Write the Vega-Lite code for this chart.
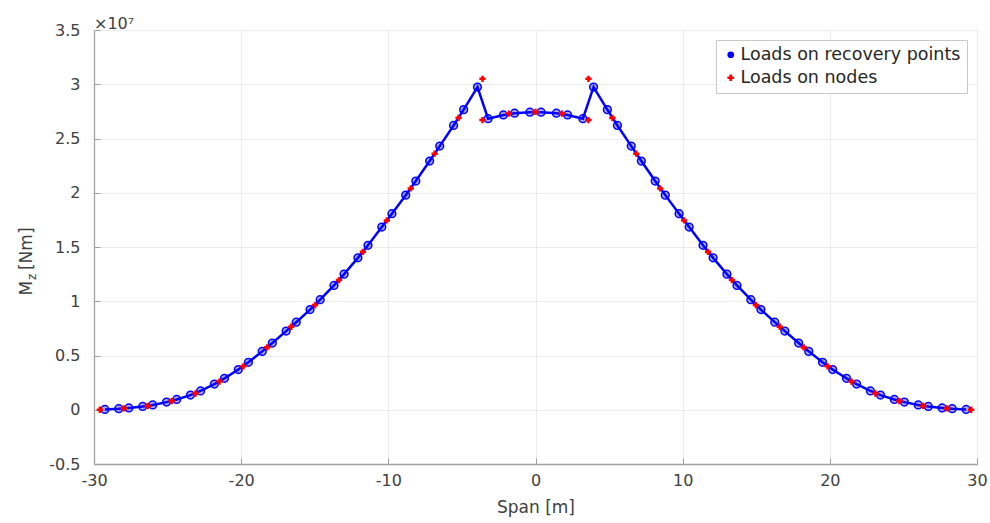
{
  "$schema": "https://vega.github.io/schema/vega-lite/v6.json",
  "width": 883,
  "height": 434,
  "autosize": {"type": "none"},
  "padding": {"left": 94, "top": 30, "right": 13, "bottom": 59},
  "background": "white",
  "config": {
    "font": "DejaVu Sans",
    "view": {"stroke": "#d4d4d4", "strokeWidth": 1},
    "axis": {
      "labelFontSize": 16,
      "labelColor": "#404040",
      "titleFontSize": 17,
      "titleFontWeight": "normal",
      "titleColor": "#404040",
      "domainColor": "#a0a0a0",
      "domainWidth": 1.3,
      "tickColor": "#a0a0a0",
      "tickSize": -6,
      "gridColor": "#ebebeb",
      "gridWidth": 1
    },
    "legend": {
      "orient": "top-right",
      "offset": 10,
      "fillColor": "white",
      "strokeColor": "#c8c8c8",
      "padding": 6,
      "labelFontSize": 17.5,
      "labelColor": "#262626",
      "labelLimit": 400,
      "labelOffset": 1,
      "rowPadding": 4,
      "symbolSize": 45,
      "symbolStrokeWidth": 0
    }
  },
  "title": {
    "text": "×10⁷",
    "anchor": "start",
    "frame": "group",
    "fontSize": 16,
    "fontWeight": "normal",
    "color": "#404040",
    "offset": -10
  },
  "datasets": {
    "pts": [
      {"x": -29.257, "Mz": 25000, "series": "Loads on recovery points"},
      {"x": -28.318, "Mz": 95000, "series": "Loads on recovery points"},
      {"x": -27.632, "Mz": 170000, "series": "Loads on recovery points"},
      {"x": -26.693, "Mz": 300000, "series": "Loads on recovery points"},
      {"x": -26.007, "Mz": 445000, "series": "Loads on recovery points"},
      {"x": -25.068, "Mz": 705000, "series": "Loads on recovery points"},
      {"x": -24.382, "Mz": 948000, "series": "Loads on recovery points"},
      {"x": -23.443, "Mz": 1352000, "series": "Loads on recovery points"},
      {"x": -22.757, "Mz": 1732000, "series": "Loads on recovery points"},
      {"x": -21.818, "Mz": 2368000, "series": "Loads on recovery points"},
      {"x": -21.132, "Mz": 2896000, "series": "Loads on recovery points"},
      {"x": -20.193, "Mz": 3704000, "series": "Loads on recovery points"},
      {"x": -19.507, "Mz": 4370000, "series": "Loads on recovery points"},
      {"x": -18.568, "Mz": 5380000, "series": "Loads on recovery points"},
      {"x": -17.882, "Mz": 6150000, "series": "Loads on recovery points"},
      {"x": -16.943, "Mz": 7250000, "series": "Loads on recovery points"},
      {"x": -16.257, "Mz": 8070000, "series": "Loads on recovery points"},
      {"x": -15.318, "Mz": 9230000, "series": "Loads on recovery points"},
      {"x": -14.632, "Mz": 10140000, "series": "Loads on recovery points"},
      {"x": -13.693, "Mz": 11460000, "series": "Loads on recovery points"},
      {"x": -13.007, "Mz": 12500000, "series": "Loads on recovery points"},
      {"x": -12.068, "Mz": 14000000, "series": "Loads on recovery points"},
      {"x": -11.382, "Mz": 15160000, "series": "Loads on recovery points"},
      {"x": -10.443, "Mz": 16840000, "series": "Loads on recovery points"},
      {"x": -9.757, "Mz": 18070000, "series": "Loads on recovery points"},
      {"x": -8.818, "Mz": 19780000, "series": "Loads on recovery points"},
      {"x": -8.132, "Mz": 21080000, "series": "Loads on recovery points"},
      {"x": -7.193, "Mz": 22920000, "series": "Loads on recovery points"},
      {"x": -6.507, "Mz": 24300000, "series": "Loads on recovery points"},
      {"x": -5.568, "Mz": 26200000, "series": "Loads on recovery points"},
      {"x": -4.882, "Mz": 27660000, "series": "Loads on recovery points"},
      {"x": -3.943, "Mz": 29740000, "series": "Loads on recovery points"},
      {"x": -3.22, "Mz": 26830000, "series": "Loads on recovery points"},
      {"x": -2.18, "Mz": 27170000, "series": "Loads on recovery points"},
      {"x": -1.42, "Mz": 27330000, "series": "Loads on recovery points"},
      {"x": -0.38, "Mz": 27420000, "series": "Loads on recovery points"},
      {"x": 0.38, "Mz": 27420000, "series": "Loads on recovery points"},
      {"x": 1.42, "Mz": 27330000, "series": "Loads on recovery points"},
      {"x": 2.18, "Mz": 27170000, "series": "Loads on recovery points"},
      {"x": 3.22, "Mz": 26830000, "series": "Loads on recovery points"},
      {"x": 3.943, "Mz": 29740000, "series": "Loads on recovery points"},
      {"x": 4.882, "Mz": 27660000, "series": "Loads on recovery points"},
      {"x": 5.568, "Mz": 26200000, "series": "Loads on recovery points"},
      {"x": 6.507, "Mz": 24300000, "series": "Loads on recovery points"},
      {"x": 7.193, "Mz": 22920000, "series": "Loads on recovery points"},
      {"x": 8.132, "Mz": 21080000, "series": "Loads on recovery points"},
      {"x": 8.818, "Mz": 19780000, "series": "Loads on recovery points"},
      {"x": 9.757, "Mz": 18070000, "series": "Loads on recovery points"},
      {"x": 10.443, "Mz": 16840000, "series": "Loads on recovery points"},
      {"x": 11.382, "Mz": 15160000, "series": "Loads on recovery points"},
      {"x": 12.068, "Mz": 14000000, "series": "Loads on recovery points"},
      {"x": 13.007, "Mz": 12500000, "series": "Loads on recovery points"},
      {"x": 13.693, "Mz": 11460000, "series": "Loads on recovery points"},
      {"x": 14.632, "Mz": 10140000, "series": "Loads on recovery points"},
      {"x": 15.318, "Mz": 9230000, "series": "Loads on recovery points"},
      {"x": 16.257, "Mz": 8070000, "series": "Loads on recovery points"},
      {"x": 16.943, "Mz": 7250000, "series": "Loads on recovery points"},
      {"x": 17.882, "Mz": 6150000, "series": "Loads on recovery points"},
      {"x": 18.568, "Mz": 5380000, "series": "Loads on recovery points"},
      {"x": 19.507, "Mz": 4370000, "series": "Loads on recovery points"},
      {"x": 20.193, "Mz": 3704000, "series": "Loads on recovery points"},
      {"x": 21.132, "Mz": 2896000, "series": "Loads on recovery points"},
      {"x": 21.818, "Mz": 2368000, "series": "Loads on recovery points"},
      {"x": 22.757, "Mz": 1732000, "series": "Loads on recovery points"},
      {"x": 23.443, "Mz": 1352000, "series": "Loads on recovery points"},
      {"x": 24.382, "Mz": 948000, "series": "Loads on recovery points"},
      {"x": 25.068, "Mz": 705000, "series": "Loads on recovery points"},
      {"x": 26.007, "Mz": 445000, "series": "Loads on recovery points"},
      {"x": 26.693, "Mz": 300000, "series": "Loads on recovery points"},
      {"x": 27.632, "Mz": 170000, "series": "Loads on recovery points"},
      {"x": 28.318, "Mz": 95000, "series": "Loads on recovery points"},
      {"x": 29.257, "Mz": 25000, "series": "Loads on recovery points"},
      {"x": -29.6, "Mz": 0, "series": "Loads on nodes"},
      {"x": -27.975, "Mz": 120000, "series": "Loads on nodes"},
      {"x": -26.35, "Mz": 350000, "series": "Loads on nodes"},
      {"x": -24.725, "Mz": 800000, "series": "Loads on nodes"},
      {"x": -23.1, "Mz": 1500000, "series": "Loads on nodes"},
      {"x": -21.475, "Mz": 2600000, "series": "Loads on nodes"},
      {"x": -19.85, "Mz": 4000000, "series": "Loads on nodes"},
      {"x": -18.225, "Mz": 5750000, "series": "Loads on nodes"},
      {"x": -16.6, "Mz": 7650000, "series": "Loads on nodes"},
      {"x": -14.975, "Mz": 9650000, "series": "Loads on nodes"},
      {"x": -13.35, "Mz": 11950000, "series": "Loads on nodes"},
      {"x": -11.725, "Mz": 14550000, "series": "Loads on nodes"},
      {"x": -10.1, "Mz": 17450000, "series": "Loads on nodes"},
      {"x": -8.475, "Mz": 20400000, "series": "Loads on nodes"},
      {"x": -6.85, "Mz": 23600000, "series": "Loads on nodes"},
      {"x": -5.225, "Mz": 26900000, "series": "Loads on nodes"},
      {"x": -3.6, "Mz": 30500000, "series": "Loads on nodes"},
      {"x": -3.6, "Mz": 26700000, "series": "Loads on nodes"},
      {"x": -1.8, "Mz": 27300000, "series": "Loads on nodes"},
      {"x": 0, "Mz": 27450000, "series": "Loads on nodes"},
      {"x": 1.8, "Mz": 27300000, "series": "Loads on nodes"},
      {"x": 3.6, "Mz": 26700000, "series": "Loads on nodes"},
      {"x": 3.6, "Mz": 30500000, "series": "Loads on nodes"},
      {"x": 5.225, "Mz": 26900000, "series": "Loads on nodes"},
      {"x": 6.85, "Mz": 23600000, "series": "Loads on nodes"},
      {"x": 8.475, "Mz": 20400000, "series": "Loads on nodes"},
      {"x": 10.1, "Mz": 17450000, "series": "Loads on nodes"},
      {"x": 11.725, "Mz": 14550000, "series": "Loads on nodes"},
      {"x": 13.35, "Mz": 11950000, "series": "Loads on nodes"},
      {"x": 14.975, "Mz": 9650000, "series": "Loads on nodes"},
      {"x": 16.6, "Mz": 7650000, "series": "Loads on nodes"},
      {"x": 18.225, "Mz": 5750000, "series": "Loads on nodes"},
      {"x": 19.85, "Mz": 4000000, "series": "Loads on nodes"},
      {"x": 21.475, "Mz": 2600000, "series": "Loads on nodes"},
      {"x": 23.1, "Mz": 1500000, "series": "Loads on nodes"},
      {"x": 24.725, "Mz": 800000, "series": "Loads on nodes"},
      {"x": 26.35, "Mz": 350000, "series": "Loads on nodes"},
      {"x": 27.975, "Mz": 120000, "series": "Loads on nodes"},
      {"x": 29.6, "Mz": 0, "series": "Loads on nodes"}
    ]
  },
  "data": {"name": "pts"},
  "encoding": {
    "x": {
      "field": "x",
      "type": "quantitative",
      "scale": {"domain": [-30, 30], "nice": false, "zero": false},
      "axis": {
        "values": [-30, -20, -10, 0, 10, 20, 30],
        "labelExpr": "'' + datum.value",
        "title": "Span [m]",
        "labelPadding": 14,
        "titlePadding": 11,
        "labelFlush": false
      }
    }
  },
  "layer": [
    {
      "transform": [{"filter": "datum.series == 'Loads on recovery points'"}],
      "mark": {"type": "line", "color": "#0000ff", "strokeWidth": 2.5},
      "encoding": {
        "y": {
          "field": "Mz",
          "type": "quantitative",
          "scale": {"domain": [-5000000, 35000000], "nice": false, "zero": false},
          "axis": {
            "orient": "left",
            "values": [-5000000, 0, 5000000, 10000000, 15000000, 20000000, 25000000, 30000000, 35000000],
            "labelExpr": "'' + (datum.value / 10000000)",
            "title": "M\u00a0\u00a0[Nm]",
            "labelPadding": 20,
            "titleAngle": -90,
            "titleAlign": "left",
            "titleBaseline": "alphabetic",
            "titleX": -63,
            "titleY": 265
          }
        }
      }
    },
    {
      "transform": [{"filter": "datum.series == 'Loads on recovery points'"}],
      "mark": {"type": "point", "filled": true, "fillOpacity": 0.35, "stroke": "#0000ff", "strokeWidth": 1.5, "size": 60, "opacity": 1},
      "encoding": {
        "y": {"field": "Mz", "type": "quantitative", "axis": null},
        "color": {
          "field": "series", "type": "nominal",
          "scale": {"domain": ["Loads on recovery points", "Loads on nodes"], "range": ["#0000ff", "#ff0000"]},
          "legend": {
            "title": null,
            "encode": {
              "symbols": {
                "update": {
                  "strokeWidth": {"value": 0},
                  "fillOpacity": {"value": 1},
                  "opacity": {"value": 1}
                }
              }
            }
          }
        },
        "shape": {
          "field": "series", "type": "nominal",
          "scale": {"domain": ["Loads on recovery points", "Loads on nodes"], "range": ["circle", "cross"]},
          "legend": {"title": null}
        }
      }
    },
    {
      "transform": [{"filter": "datum.series == 'Loads on nodes'"}],
      "mark": {"type": "point", "filled": true, "size": 40, "opacity": 1},
      "encoding": {
        "y": {
          "field": "Mz",
          "type": "quantitative",
          "axis": {
            "orient": "left",
            "title": "z",
            "titleFontSize": 12,
            "labels": false,
            "ticks": false,
            "domain": false,
            "grid": false,
            "titleAngle": -90,
            "titleAlign": "left",
            "titleBaseline": "alphabetic",
            "titleX": -59,
            "titleY": 249.5
          }
        },
        "color": {"field": "series", "type": "nominal"},
        "shape": {"field": "series", "type": "nominal"}
      }
    }
  ],
  "resolve": {"scale": {"y": "shared", "color": "shared", "shape": "shared"}, "axis": {"y": "independent"}}
}
